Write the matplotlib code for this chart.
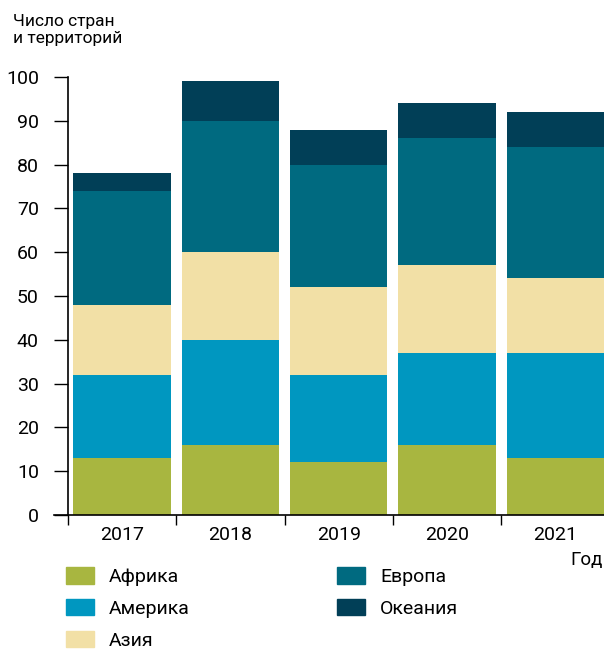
import numpy as np
import matplotlib
matplotlib.use('Agg')
import matplotlib.pyplot as plt
from matplotlib.patches import Patch

plt.rcParams['font.family'] = ['Roboto', 'DejaVu Sans']

# данные
years = ['2017', '2018', '2019', '2020', '2021']
regions = ['Африка', 'Америка', 'Азия', 'Европа', 'Океания']
africa = [13, 16, 12, 16, 13]
america = [19, 24, 20, 21, 24]
asia = [16, 20, 20, 20, 17]
europe = [26, 30, 28, 29, 30]
oceania = [4, 9, 8, 8, 8]
colors = ['#a8b640', '#0097c0', '#f2e0a6', '#006a80', '#013f57']

fig = plt.figure(figsize=(6.04, 6.5), dpi=100)
ax = fig.add_axes([68 / 604, 1 - 515 / 650, 541.5 / 604, 438 / 650])

x = np.arange(len(years))
bottom = np.zeros(len(years))
for vals, col in zip([africa, america, asia, europe, oceania], colors):
    ax.bar(x, vals, width=0.9, bottom=bottom, color=col, linewidth=0)
    bottom += np.array(vals)

ax.set_xlim(-0.5, 4.5)
ax.set_ylim(0, 100)
ax.set_yticks(range(0, 101, 10))
ax.tick_params(axis='y', direction='out', length=10, width=1, pad=11, labelsize=14)

# метки годов по центру, риски на границах
ax.set_xticks(np.arange(-0.5, 5, 1))
ax.set_xticklabels([])
ax.set_xticks(x, minor=True)
ax.set_xticklabels(years, minor=True, fontsize=14)
ax.tick_params(axis='x', which='major', length=7, width=1)
ax.tick_params(axis='x', which='minor', length=0, pad=8)

for s in ['top', 'right']:
    ax.spines[s].set_visible(False)
for s in ['left', 'bottom']:
    ax.spines[s].set_linewidth(1.2)
ax.spines['bottom'].set_bounds(-0.63, 4.5)

fig.text(13 / 604, 1 - 14 / 650, 'Число стран\nи территорий', fontsize=12.5,
         va='top', ha='left', linespacing=1.15)
fig.text(570 / 604, 1 - 560 / 650, 'Год', fontsize=13.5, va='center', ha='left')

# легенда
handles = [Patch(color=c) for c in colors]
leg_kw = dict(loc='upper left', frameon=False, fontsize=14, handlelength=1.44,
              handleheight=0.93, handletextpad=0.77, labelspacing=0.66,
              borderaxespad=0, borderpad=0)
fig.legend(handles[:3], regions[:3], bbox_to_anchor=(66 / 604, 1 - 567 / 650), **leg_kw)
fig.legend(handles[3:], regions[3:], bbox_to_anchor=(337 / 604, 1 - 567 / 650), **leg_kw)

fig.savefig('out.png', dpi=100)
